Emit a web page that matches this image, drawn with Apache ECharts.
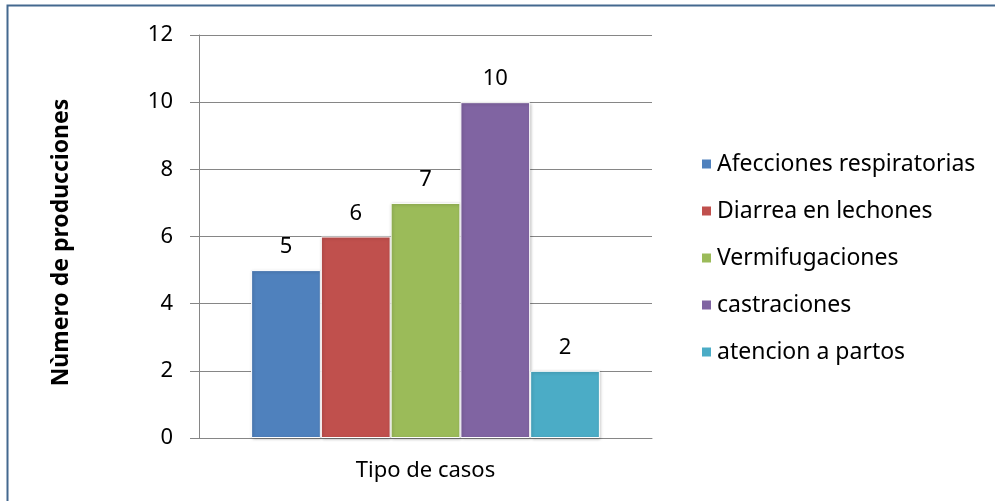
<!DOCTYPE html>
<html><head><meta charset="utf-8">
<script src="https://cdn.jsdelivr.net/npm/echarts@6/dist/echarts.min.js"></script>
<style>html,body{margin:0;padding:0;background:#fff}#c{width:995px;height:501px}</style>
</head><body><div id="c"></div>
<script>
const categories = ['Tipo de casos'];
const seriesNames = ['Afecciones respiratorias','Diarrea en lechones','Vermifugaciones','castraciones','atencion a partos'];
const seriesValues = [[5],[6],[7],[10],[2]];
const colors = ['#4F81BD','#C0504D','#9BBB59','#8064A2','#4BACC6'];
const yTicks = {min:0, max:12, interval:2};
const yTitle = 'Nùmero de producciones';
const FONT = 'Noto Sans';

const chart = echarts.init(document.getElementById('c'));
chart.setOption({
  animation:false,
  textStyle:{fontFamily:FONT},
  graphic:[{type:'rect',shape:{x:7.5,y:5.5,width:1200,height:1000},style:{fill:'none',stroke:'#44698F',lineWidth:2},z:-1}],
  grid:{left:199,top:35,right:343,bottom:63,containLabel:false},
  legend:{orient:'vertical',left:695,top:146,itemWidth:11,itemHeight:11,itemGap:21,icon:'rect',
    textStyle:{fontSize:23,lineHeight:26,color:'#000',fontFamily:FONT,padding:[0,0,0,0]},data:seriesNames},
  xAxis:{type:'category',data:categories,
    axisLine:{lineStyle:{color:'#868686'}},axisTick:{show:false},
    axisLabel:{fontSize:22,color:'#000',margin:22}},
  yAxis:{type:'value',min:yTicks.min,max:yTicks.max,interval:yTicks.interval,
    name:yTitle,nameLocation:'middle',nameGap:126,nameRotate:90,
    nameTextStyle:{fontSize:23,fontWeight:'bold',color:'#000',padding:[0,12,0,0]},
    axisLine:{show:true,lineStyle:{color:'#868686'}},
    axisTick:{show:true,length:9,lineStyle:{color:'#868686'}},
    axisLabel:{fontSize:22,color:'#000',margin:26},
    splitLine:{lineStyle:{color:'#868686'}}},
  series:seriesNames.map((n,i)=>({name:n,type:'bar',data:seriesValues[i],
    barGap:'0%',barCategoryGap:'23%',
    itemStyle:{color:colors[i],borderColor:'#fff',borderWidth:1,shadowColor:'rgba(0,0,0,0.25)',shadowBlur:3,shadowOffsetX:1,shadowOffsetY:1},
    label:{show:true,position:'top',distance:12,fontSize:22,color:'#000'}}))
});
</script></body></html>
